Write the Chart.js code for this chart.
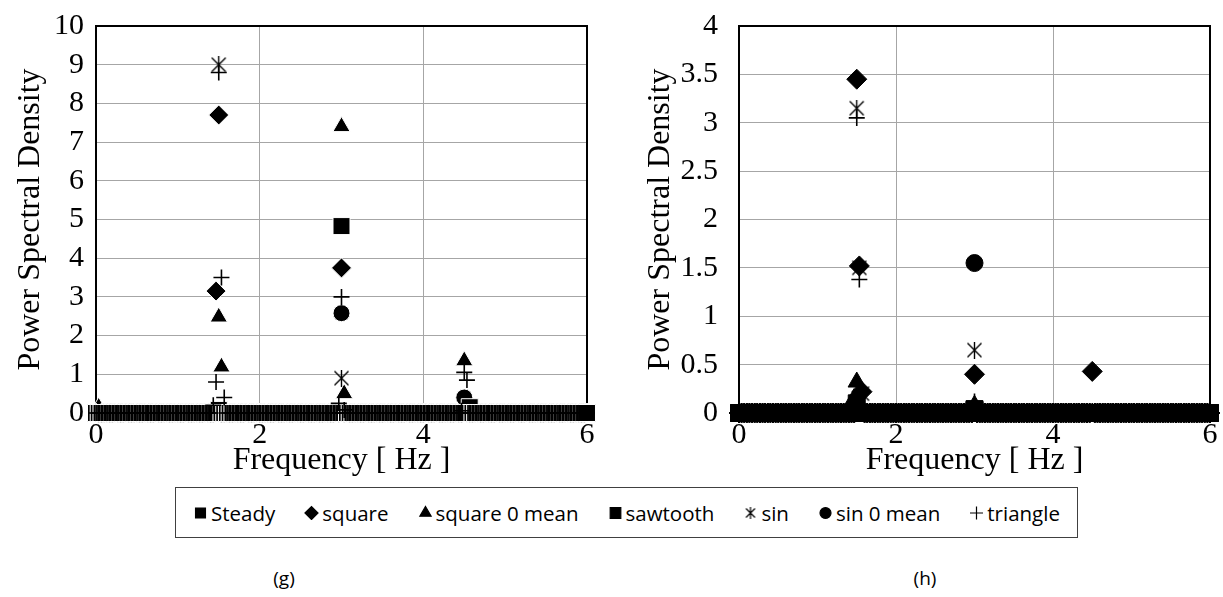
<!DOCTYPE html>
<html>
<head>
<meta charset="utf-8">
<script src="https://cdn.jsdelivr.net/npm/chart.js@4.4.1/dist/chart.umd.min.js"></script>
<style>
  html, body { margin: 0; padding: 0; background: #fff; }
  body { width: 1223px; height: 597px; position: relative; overflow: hidden;
         font-family: "Open Sans", "Liberation Sans", sans-serif; }
  #g { position: absolute; left: 0; top: 0; }
  #h { position: absolute; left: 612px; top: 0; }
  #legend { position: absolute; left: 175px; top: 487px; width: 903px; height: 51px;
            box-sizing: border-box; border: 1px solid #404040;
            display: flex; align-items: center; justify-content: center; gap: 29px;
            font-size: 20.5px; color: #000; }
  .item { display: flex; align-items: center; gap: 3px; white-space: nowrap; }
  .item canvas { display: block; }
  .panel { position: absolute; top: 565px; font-size: 19px; color: #000; transform: translateX(-50%); }
</style>
</head>
<body>
<canvas id="g" width="610" height="480"></canvas>
<canvas id="h" width="611" height="480"></canvas>
<div id="legend"></div>
<div class="panel" style="left:284px">(g)</div>
<div class="panel" style="left:925px">(h)</div>
<script>
// Frequency bins of the spectra [Hz]
const freqBins = [
  0, 0.033, 0.067, 0.1, 0.133, 0.167, 0.2, 0.233, 0.267, 0.3, 0.333, 0.367, 0.4, 0.433, 0.467,
  0.5, 0.533, 0.567, 0.6, 0.633, 0.667, 0.7, 0.733, 0.767, 0.8, 0.833, 0.867, 0.9, 0.933, 0.967,
  1, 1.033, 1.067, 1.1, 1.133, 1.167, 1.2, 1.233, 1.267, 1.3, 1.333, 1.367, 1.4, 1.433, 1.467,
  1.5, 1.533, 1.567, 1.6, 1.633, 1.667, 1.7, 1.733, 1.767, 1.8, 1.833, 1.867, 1.9, 1.933, 1.967,
  2, 2.033, 2.067, 2.1, 2.133, 2.167, 2.2, 2.233, 2.267, 2.3, 2.333, 2.367, 2.4, 2.433, 2.467,
  2.5, 2.533, 2.567, 2.6, 2.633, 2.667, 2.7, 2.733, 2.767, 2.8, 2.833, 2.867, 2.9, 2.933, 2.967,
  3, 3.033, 3.067, 3.1, 3.133, 3.167, 3.2, 3.233, 3.267, 3.3, 3.333, 3.367, 3.4, 3.433, 3.467,
  3.5, 3.533, 3.567, 3.6, 3.633, 3.667, 3.7, 3.733, 3.767, 3.8, 3.833, 3.867, 3.9, 3.933, 3.967,
  4, 4.033, 4.067, 4.1, 4.133, 4.167, 4.2, 4.233, 4.267, 4.3, 4.333, 4.367, 4.4, 4.433, 4.467,
  4.5, 4.533, 4.567, 4.6, 4.633, 4.667, 4.7, 4.733, 4.767, 4.8, 4.833, 4.867, 4.9, 4.933, 4.967,
  5, 5.033, 5.067, 5.1, 5.133, 5.167, 5.2, 5.233, 5.267, 5.3, 5.333, 5.367, 5.4, 5.433, 5.467,
  5.5, 5.533, 5.567, 5.6, 5.633, 5.667, 5.7, 5.733, 5.767, 5.8, 5.833, 5.867, 5.9, 5.933, 5.967,
  6
];

const seriesNames = ['Steady', 'square', 'square 0 mean', 'sawtooth', 'sin', 'sin 0 mean', 'triangle'];

// Non-zero PSD values as [frequency, PSD]; every other bin sits at 0.
// Panel (g)
const steadyG   = [[3.0, 4.83]];
const squareG   = [[1.5, 7.7], [1.467, 3.15], [3.0, 3.75], [4.5, 0.12]];
const square0G  = [[0.033, 0.15], [1.5, 2.48], [1.533, 1.19], [3.0, 7.4], [3.033, 0.5], [4.5, 1.35]];
const sawtoothG = [[1.5, 0.08], [4.567, 0.15]];
const sinG      = [[1.5, 9.0], [3.0, 0.9]];
const sin0G     = [[3.0, 2.58], [4.5, 0.4]];
const triangleG = [[1.5, 8.8], [1.533, 3.5], [1.467, 0.8], [1.567, 0.4], [1.433, 0.2],
                   [3.0, 3.0], [2.967, 0.25], [3.033, 0.08], [4.5, 1.05], [4.533, 0.85], [4.467, 0.06]];
// Panel (h)
const steadyH   = [[3.0, 0.04]];
const squareH   = [[1.5, 3.45], [1.533, 1.52], [1.567, 0.22], [3.0, 0.4], [4.5, 0.43]];
const square0H  = [[1.5, 0.32], [1.467, 0.15], [3.0, 0.08]];
const sawtoothH = [[1.5, 0.1], [3.0, 0.03]];
const sinH      = [[1.5, 3.15], [1.533, 1.5], [1.567, 0.2], [3.0, 0.65]];
const sin0H     = [[3.0, 1.55]];
const triangleH = [[1.5, 3.05], [1.533, 1.38], [1.467, 0.1], [3.0, 0.12]];

const yTicksG = [0, 1, 2, 3, 4, 5, 6, 7, 8, 9, 10];
const yTicksH = [0, 0.5, 1, 1.5, 2, 2.5, 3, 3.5, 4];
const xTicks  = [0, 2, 4, 6];

const serif = '"Liberation Serif", "Times New Roman", serif';

// Asterisk-style marker: an "x" with a vertical stroke
function makeStar(size, lw) {
  const c = document.createElement('canvas');
  c.width = size; c.height = size;
  const ctx = c.getContext('2d');
  ctx.strokeStyle = '#000'; ctx.lineWidth = lw;
  const m = 1.5, s = size;
  ctx.beginPath();
  ctx.moveTo(m, m); ctx.lineTo(s - m, s - m);
  ctx.moveTo(s - m, m); ctx.lineTo(m, s - m);
  ctx.moveTo(s / 2, 0); ctx.lineTo(s / 2, s);
  ctx.stroke();
  return c;
}

// Marker look of each series, per panel
function markerStyles(filledBorder) {
  return [
    { pointStyle: 'rect',     radius: 12,  fill: '#000', border: filledBorder, bw: 1 },
    { pointStyle: 'rectRot',  radius: 10,  fill: '#000', border: filledBorder, bw: 1 },
    { pointStyle: 'triangle', radius: 10,  fill: '#000', border: filledBorder, bw: 1 },
    { pointStyle: 'rect',     radius: 12,  fill: '#000', border: filledBorder, bw: 1 },
    { pointStyle: makeStar(17, 1.4), radius: 8, fill: '#000', border: '#000', bw: 1.4 },
    { pointStyle: 'circle',   radius: 8.5, fill: '#000', border: filledBorder, bw: 1 },
    { pointStyle: 'cross',    radius: 8,   fill: '#000', border: '#000', bw: 1.6 }
  ];
}
// triangle drawn on top, then sawtooth, then the rest
const drawOrder = [6, 5, 4, 1, 2, 3, 0];

function toPoints(peaks) {
  const pts = peaks.map(([x, y]) => ({ x, y }));
  freqBins.forEach(f => {
    if (!peaks.some(p => Math.abs(p[0] - f) < 0.01)) pts.push({ x: f, y: 0 });
  });
  return pts;
}

const plotFrame = {
  id: 'plotFrame',
  beforeDatasetsDraw(chart) {
    const { ctx, chartArea: a } = chart;
    ctx.save();
    ctx.strokeStyle = '#000';
    ctx.lineWidth = 2;
    ctx.strokeRect(a.left, a.top, a.right - a.left, a.bottom - a.top);
    ctx.restore();
  }
};

function buildChart(id, seriesData, yMax, yTicks, cfg) {
  const styles = markerStyles(cfg.filledBorder);
  const datasets = seriesData.map((peaks, i) => ({
    label: seriesNames[i],
    data: toPoints(peaks),
    showLine: false,
    clip: false,
    order: drawOrder[i],
    pointStyle: styles[i].pointStyle,
    pointRadius: styles[i].radius,
    pointBackgroundColor: styles[i].fill,
    pointBorderColor: styles[i].border,
    pointBorderWidth: styles[i].bw
  }));
  return new Chart(document.getElementById(id), {
    type: 'scatter',
    data: { datasets },
    plugins: [plotFrame],
    options: {
      responsive: false,
      animation: false,
      devicePixelRatio: 1,
      layout: { padding: { top: 26, right: cfg.padRight, bottom: 0, left: 0 } },
      plugins: { legend: { display: false }, tooltip: { enabled: false } },
      scales: {
        x: {
          type: 'linear', min: 0, max: 6,
          afterBuildTicks(s) { s.ticks = xTicks.map(v => ({ value: v })); },
          afterFit(s) { s.height = 67; s.paddingLeft = 0; s.paddingRight = 0; },
          ticks: { color: '#000', font: { family: serif, size: 30 }, padding: 4, maxRotation: 0,
                   autoSkip: false, callback: v => String(v) },
          grid: { color: '#a6a6a6', lineWidth: 1, drawTicks: false },
          border: { display: false },
          title: { display: true, text: 'Frequency [ Hz ]', color: '#000',
                   font: { family: serif, size: 32 }, padding: { top: 0, bottom: 0 } }
        },
        y: {
          min: 0, max: yMax,
          afterBuildTicks(s) { s.ticks = yTicks.map(v => ({ value: v })); },
          afterFit(s) { s.width = cfg.yWidth; s.paddingTop = 0; s.paddingBottom = 0; },
          ticks: { color: '#000', font: { family: serif, size: 30 }, padding: cfg.yPad,
                   autoSkip: false, callback: v => String(v) },
          grid: { color: '#a6a6a6', lineWidth: 1, drawTicks: false },
          border: { display: false },
          title: { display: true, text: 'Power Spectral Density', color: '#000',
                   font: { family: serif, size: 32 }, padding: { top: cfg.titlePad, bottom: 0 } }
        }
      }
    }
  });
}

buildChart('g', [steadyG, squareG, square0G, sawtoothG, sinG, sin0G, triangleG], 10, yTicksG,
           { filledBorder: '#fff', padRight: 23, yWidth: 96, yPad: 12, titlePad: 11 });
buildChart('h', [steadyH, squareH, square0H, sawtoothH, sinH, sin0H, triangleH], 4, yTicksH,
           { filledBorder: '#000', padRight: 10, yWidth: 127, yPad: 21, titlePad: 29 });

// Shared legend under both panels
const legendMarks = [
  { pointStyle: 'rect', radius: 7 },
  { pointStyle: 'rectRot', radius: 6.5 },
  { pointStyle: 'triangle', radius: 6.5 },
  { pointStyle: 'rect', radius: 7.5 },
  { pointStyle: makeStar(12, 1.2), radius: 6 },
  { pointStyle: 'circle', radius: 5.5 },
  { pointStyle: 'cross', radius: 6.5 }
];
const legend = document.getElementById('legend');
seriesNames.forEach((name, i) => {
  const item = document.createElement('div');
  item.className = 'item';
  const c = document.createElement('canvas');
  c.width = 15; c.height = 15;
  const ctx = c.getContext('2d');
  ctx.fillStyle = '#000'; ctx.strokeStyle = '#000'; ctx.lineWidth = 1.2;
  if (Chart.helpers && Chart.helpers.drawPoint) {
    Chart.helpers.drawPoint(ctx, { pointStyle: legendMarks[i].pointStyle, radius: legendMarks[i].radius,
                                   rotation: 0, borderWidth: 1 }, 7.5, 8);
  }
  const t = document.createElement('span');
  t.textContent = name;
  item.appendChild(c); item.appendChild(t);
  legend.appendChild(item);
});
</script>
</body>
</html>
